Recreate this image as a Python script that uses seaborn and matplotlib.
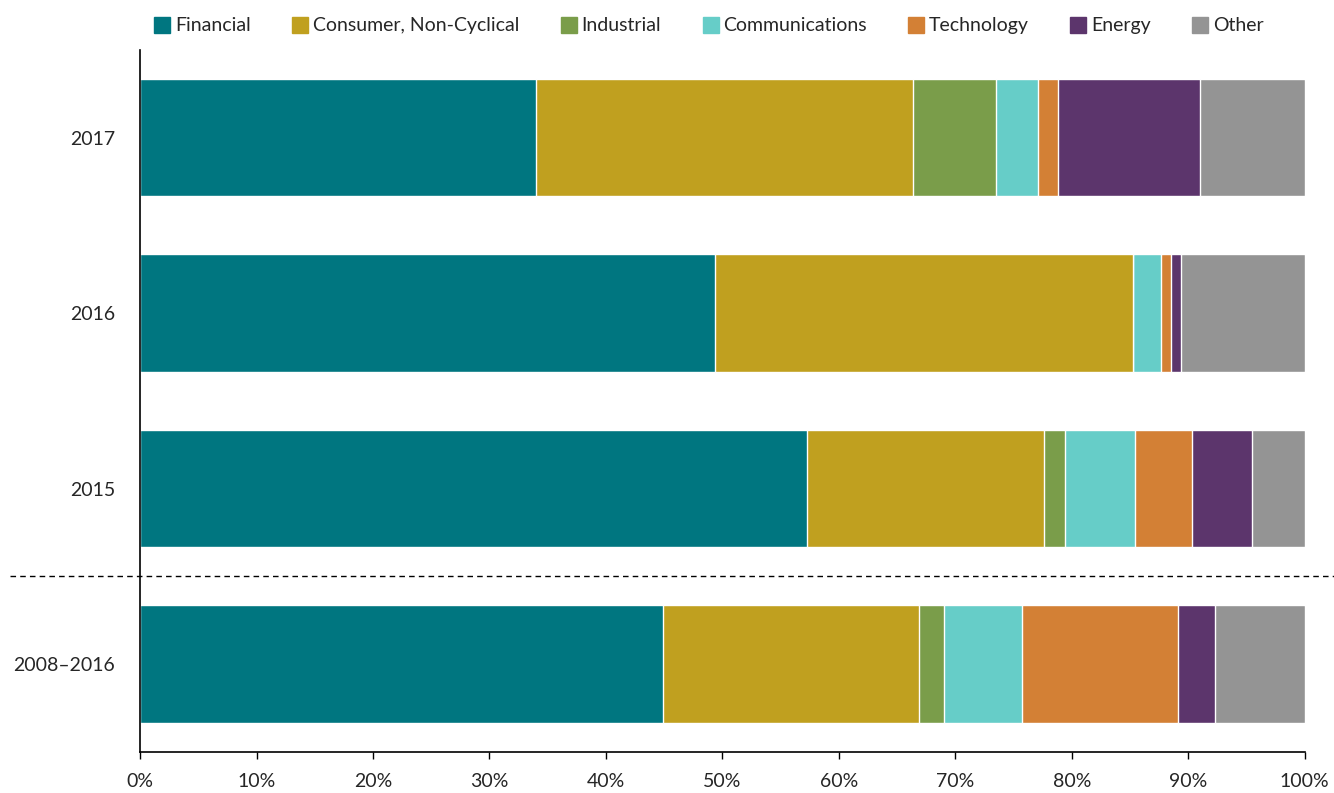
import numpy as np
import pandas as pd
import seaborn as sns
import matplotlib.pyplot as plt
from matplotlib.lines import Line2D
from matplotlib.ticker import PercentFormatter

# Sector shares (%) per period
periods = ['2017', '2016', '2015', '2008\u20132016']
sectors = ['Financial', 'Consumer, Non-Cyclical', 'Industrial', 'Communications',
           'Technology', 'Energy', 'Other']
financial = [34.0, 49.4, 57.3, 44.9]
consumer = [32.4, 35.9, 20.3, 22.0]
industrial = [7.1, 0.0, 1.8, 2.1]
communications = [3.6, 2.4, 6.0, 6.7]
technology = [1.7, 0.8, 4.9, 13.4]
energy = [12.2, 0.9, 5.2, 3.2]
other = [9.0, 10.6, 4.5, 7.7]

colors = ['#007680', '#C0A01F', '#7A9D4A', '#66CDC8', '#D38035', '#5C356C', '#949494']

sns.set_style('white')
plt.rcParams['font.family'] = ['Lato', 'DejaVu Sans']

df = pd.DataFrame({'period': periods, 'Financial': financial,
                   'Consumer, Non-Cyclical': consumer, 'Industrial': industrial,
                   'Communications': communications, 'Technology': technology,
                   'Energy': energy, 'Other': other})
cum = df[sectors].cumsum(axis=1)

fig = plt.figure(figsize=(13.34, 7.93), dpi=100)
ax = fig.add_axes([0.105, 0.052, 0.873, 0.885])

# stacked bars: draw cumulative totals from the last sector back to the first
for sec, col in reversed(list(zip(sectors, colors))):
    sns.barplot(x=cum[sec], y=df['period'], orient='h', color=col,
                width=0.67, ax=ax, saturation=1)

ax.set_xlim(0, 100)
ax.set_ylim(3.5, -0.5)
ax.xaxis.set_major_locator(plt.MultipleLocator(10))
ax.xaxis.set_major_formatter(PercentFormatter(decimals=0))
ax.set_xlabel('')
ax.set_ylabel('')
sns.despine(ax=ax)
for s in ['left', 'bottom']:
    ax.spines[s].set_color('black')
    ax.spines[s].set_linewidth(1.2)
ax.tick_params(axis='x', length=5, width=1, color='black', labelsize=14,
               labelcolor='#262626', bottom=True, pad=10)
ax.tick_params(axis='y', length=0, labelsize=14, labelcolor='#262626', pad=18)

# dashed separator between yearly bars and the full-period bar
ax.plot([-0.112, 1.03], [2.5, 2.5], transform=ax.get_yaxis_transform(),
        color='black', lw=1, ls=(0, (4, 3)), clip_on=False)

handles = [Line2D([], [], marker='s', ls='', color=c, markersize=11) for c in colors]
fig.legend(handles, sectors, loc='upper center', bbox_to_anchor=(0.53, 1.0),
           ncol=7, frameon=False, fontsize=14, handletextpad=0.05,
           handlelength=1.2, columnspacing=1.95, labelcolor='#262626')

fig.savefig('out.png', dpi=100)
